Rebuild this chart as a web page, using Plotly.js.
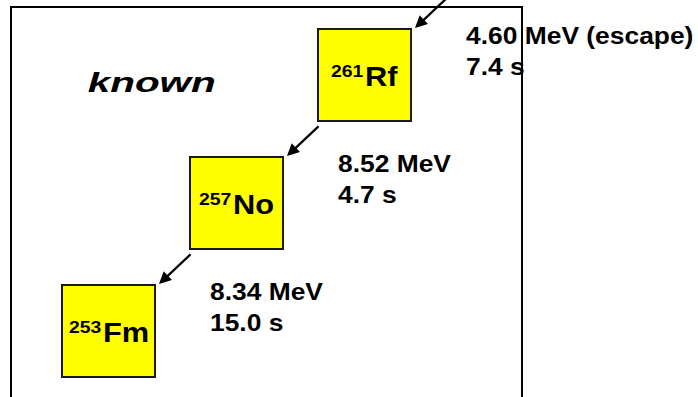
<!DOCTYPE html>
<html>
<head>
<meta charset="utf-8">
<script src="https://cdn.plot.ly/plotly-3.0.1.min.js"></script>
<style>
  html, body { margin: 0; padding: 0; background: #ffffff; }
  #chart { width: 698px; height: 397px; }
</style>
</head>
<body>
<div id="chart"></div>
<script>
// ---- data (alpha-decay chain) ----
const nuclides       = ['Rf', 'No', 'Fm'];
const massNumbers    = [261, 257, 253];
const protonNumbers  = [104, 102, 100];
const neutronNumbers = [157, 155, 153];
const alphaEnergies  = ['4.60 MeV (escape)', '8.52 MeV', '8.34 MeV'];
const halfLives      = ['7.4 s', '4.7 s', '15.0 s'];
const groupLabel     = 'known';

// ---- layout constants (pixels per N/Z unit) ----
const W = 698, H = 397, PX = 64;
const u = p => p / PX;              // pixels -> axis units
const HW = u(46.5), HH = u(46);     // box half width / height
const FAMILY = 'Liberation Sans';
const FONT = FAMILY + ', Arial, sans-serif';
const MASS_SIZE = 17, EL_SIZE = 27, LABEL_STRETCH = 1.14, GAP = 2;

// text measurement for placing mass number next to element symbol
const ctx = document.createElement('canvas').getContext('2d');
function textWidth(str, size) {
  ctx.font = 'bold ' + size + 'px "' + FAMILY + '"';
  return ctx.measureText(str).width;
}

const shapes = [];
const annotations = [];
const stretch = [];                 // horizontal stretch per annotation
function addAnn(a, s) { annotations.push(a); stretch.push(s); }

// frame
shapes.push({
  type: 'rect', xref: 'paper', yref: 'paper',
  x0: 11 / W, x1: 522 / W, y0: -0.05, y1: 1 - 7 / H,
  line: { color: '#000000', width: 2 }, fillcolor: 'rgba(0,0,0,0)', layer: 'below'
});

nuclides.forEach((el, i) => {
  const N = neutronNumbers[i], Z = protonNumbers[i];
  // nuclide box
  shapes.push({
    type: 'rect', xref: 'x', yref: 'y',
    x0: N - HW, x1: N + HW, y0: Z - HH, y1: Z + HH,
    fillcolor: '#FFFF00', line: { color: '#1a1a1a', width: 2 }, layer: 'below'
  });
  // label: mass number (raised) + element symbol, centred together
  const mW = textWidth(String(massNumbers[i]), MASS_SIZE) * LABEL_STRETCH;
  const eW = textWidth(el, EL_SIZE) * LABEL_STRETCH;
  const split = N + u(-(mW + GAP + eW) / 2 + mW);
  addAnn({
    xref: 'x', yref: 'y', x: split, y: Z + u(4),
    xanchor: 'right', yanchor: 'middle', showarrow: false,
    borderwidth: 0, borderpad: 0,
    text: String(massNumbers[i]),
    font: { family: FONT, size: MASS_SIZE, color: '#000000', weight: 'bold' }
  }, LABEL_STRETCH);
  addAnn({
    xref: 'x', yref: 'y', x: split + u(GAP), y: Z - u(2),
    xanchor: 'left', yanchor: 'middle', showarrow: false,
    borderwidth: 0, borderpad: 0,
    text: el,
    font: { family: FONT, size: EL_SIZE, color: '#000000', weight: 'bold' }
  }, LABEL_STRETCH);
  // alpha energy
  addAnn({
    xref: 'x', yref: 'y', x: N + HW + u(53), y: Z + HH - u(6),
    xanchor: 'left', yanchor: 'middle', showarrow: false,
    text: alphaEnergies[i],
    font: { family: FONT, size: 24, color: '#000000', weight: 'bold' }
  }, 1.1);
  // half-life
  addAnn({
    xref: 'x', yref: 'y', x: N + HW + u(53), y: Z + HH - u(37),
    xanchor: 'left', yanchor: 'middle', showarrow: false,
    text: halfLives[i],
    font: { family: FONT, size: 24, color: '#000000', weight: 'bold' }
  }, 1.1);
  // incoming alpha-decay arrow (from parent at N+2, Z+2)
  const tipX = N + HW + u(4), tipY = Z + HH + u(1);
  addAnn({
    xref: 'x', yref: 'y', axref: 'x', ayref: 'y',
    x: tipX, y: tipY, ax: tipX + u(33), ay: tipY + u(31),
    text: '', showarrow: true, arrowhead: 2, arrowsize: 1.1,
    arrowwidth: 2.2, arrowcolor: '#000000', standoff: 0
  }, 1);
});

// group label
addAnn({
  xref: 'paper', yref: 'paper', x: 152 / W, y: 1 - 83 / H,
  xanchor: 'center', yanchor: 'middle', showarrow: false,
  text: groupLabel,
  font: { family: FONT, size: 27, color: '#000000', weight: 'bold', style: 'italic' }
}, 1.5);

const N0 = neutronNumbers[0], Z0 = protonNumbers[0];
const layout = {
  width: W, height: H,
  margin: { l: 0, r: 0, t: 0, b: 0 },
  paper_bgcolor: '#ffffff', plot_bgcolor: '#ffffff',
  showlegend: false,
  xaxis: { range: [N0 - u(364.5), N0 + u(W - 364.5)], visible: false, fixedrange: true },
  yaxis: { range: [Z0 - u(H - 75), Z0 + u(75)], visible: false, fixedrange: true },
  shapes: shapes,
  annotations: annotations
};

const trace = {
  type: 'scatter', mode: 'markers',
  x: neutronNumbers, y: protonNumbers,
  marker: { size: 1, color: 'rgba(0,0,0,0)' }, hoverinfo: 'skip'
};

Plotly.newPlot('chart', [trace], layout, { staticPlot: true, displayModeBar: false }).then(gd => {
  gd.querySelectorAll('g.annotation').forEach(g => {
    const idx = +g.getAttribute('data-index');
    const s = stretch[idx];
    const t = g.querySelector('text.annotation-text');
    if (!t || !s || s === 1) return;
    const b = t.getBBox();
    const a = annotations[idx];
    const cx = a.xanchor === 'left' ? b.x : (a.xanchor === 'right' ? b.x + b.width : b.x + b.width / 2);
    const prev = t.getAttribute('transform') || '';
    t.setAttribute('transform', prev + ' translate(' + cx + ',0) scale(' + s + ',1) translate(' + (-cx) + ',0)');
  });
});
</script>
</body>
</html>
